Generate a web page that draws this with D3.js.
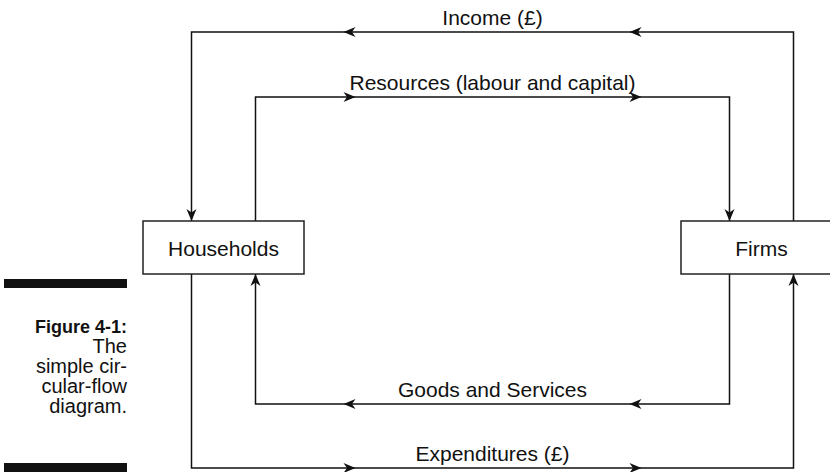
<!DOCTYPE html>
<meta charset="utf-8">
<script src="https://cdn.jsdelivr.net/npm/d3@7"></script>
<style>
body { margin: 0; background: #fff; }
text {
  font-family: "Liberation Sans", Arial, sans-serif;
  fill: #111;
}
.flow { fill: none; stroke: #111; stroke-width: 1.5px; }
.box { fill: #fff; stroke: #222; stroke-width: 1.5px; }
.arrow { fill: #111; stroke: none; }
.label { font-size: 21px; }
.caption { font-size: 20px; }
.caption.head { font-size: 18px; font-weight: 700; }
</style>
<body>
<script>

// the two sectors and the four flows between them
var sectors = ["Households", "Firms"];
var flowLabels = ["Income (£)", "Resources (labour and capital)", "Goods and Services", "Expenditures (£)"];
var flowTracks = ["outer", "inner", "inner", "outer"];
var flowSides  = ["top", "top", "bottom", "bottom"];
var flowDirs   = [-1, 1, -1, 1];   // 1 = households -> firms, -1 = firms -> households
var captionLines = ["Figure 4-1:", "The", "simple cir-", "cular-flow", "diagram."];

var width = 830,
    height = 472;

var svg = d3.select("body").append("svg")
    .attr("width", width)
    .attr("height", height);

// layout scales
var x = d3.scalePoint()
    .domain(sectors)
    .range([223.5, 761.5]);

var level = d3.scaleOrdinal()
    .domain(["outer-top", "inner-top", "inner-bottom", "outer-bottom"])
    .range([32, 97, 404, 468]);

var boxW = 161, boxTop = 221, boxBottom = 274;
var trackOffset = 32;
var midX = (x("Households") + x("Firms")) / 2;
var arrowXs = [midX - 143, midX + 143];

function trackX(sector, track) {
  var side = sector == "Households" ? -1 : 1;
  return x(sector) + side * (track == "outer" ? trackOffset : -trackOffset);
}

var flows = flowLabels.map(function(label, i) {
  var from = flowDirs[i] > 0 ? "Households" : "Firms",
      to = flowDirs[i] > 0 ? "Firms" : "Households";
  var yEdge = flowSides[i] == "top" ? boxTop : boxBottom;
  var yLine = level(flowTracks[i] + "-" + flowSides[i]);
  return {
    label: label,
    dir: flowDirs[i],
    side: flowSides[i],
    x0: trackX(from, flowTracks[i]),
    x1: trackX(to, flowTracks[i]),
    yEdge: yEdge,
    yLine: yLine
  };
});

var line = d3.line();
var arrowShape = "M0,0L-12,-5L-8.5,0L-12,5Z";

// the flow lines
svg.append("g")
  .selectAll("path")
  .data(flows)
  .enter().append("path")
    .attr("class", "flow")
    .attr("d", function(d) {
      return line([[d.x0, d.yEdge], [d.x0, d.yLine], [d.x1, d.yLine], [d.x1, d.yEdge]]);
    });

// arrowheads along the horizontal runs
flows.forEach(function(d) {
  arrowXs.forEach(function(ax) {
    svg.append("path")
      .attr("class", "arrow")
      .attr("d", arrowShape)
      .attr("transform", "translate(" + (ax + d.dir * 6) + "," + d.yLine + ") rotate(" + (d.dir > 0 ? 0 : 180) + ")");
  });
  // arrowhead where the flow reaches the box
  svg.append("path")
    .attr("class", "arrow")
    .attr("d", arrowShape)
    .attr("transform", "translate(" + d.x1 + "," + d.yEdge + ") rotate(" + (d.side == "top" ? 90 : -90) + ")");
});

// flow labels
svg.append("g")
  .selectAll("text")
  .data(flows)
  .enter().append("text")
    .attr("class", "label")
    .attr("x", midX)
    .attr("y", function(d) { return d.yLine - 7; })
    .attr("text-anchor", "middle")
    .text(function(d) { return d.label; });

// sector boxes
var box = svg.append("g")
  .selectAll("g")
  .data(sectors)
  .enter().append("g");

box.append("rect")
    .attr("class", "box")
    .attr("x", function(d) { return x(d) - boxW / 2; })
    .attr("y", boxTop)
    .attr("width", boxW)
    .attr("height", boxBottom - boxTop);

box.append("text")
    .attr("class", "label")
    .attr("x", function(d) { return x(d); })
    .attr("y", (boxTop + boxBottom) / 2 + 8)
    .attr("text-anchor", "middle")
    .text(function(d) { return d; });

// figure caption with its bars
var capRight = 127;
svg.append("rect").attr("x", 4).attr("y", 279).attr("width", capRight - 4).attr("height", 9).attr("fill", "#111");
svg.append("rect").attr("x", 4).attr("y", 463).attr("width", capRight - 4).attr("height", 12).attr("fill", "#111");

svg.append("g")
  .selectAll("text")
  .data(captionLines)
  .enter().append("text")
    .attr("class", function(d, i) { return i == 0 ? "caption head" : "caption"; })
    .attr("x", capRight)
    .attr("y", function(d, i) { return 333 + i * 20; })
    .attr("text-anchor", "end")
    .text(function(d) { return d; });

</script>
</body>
</html>
